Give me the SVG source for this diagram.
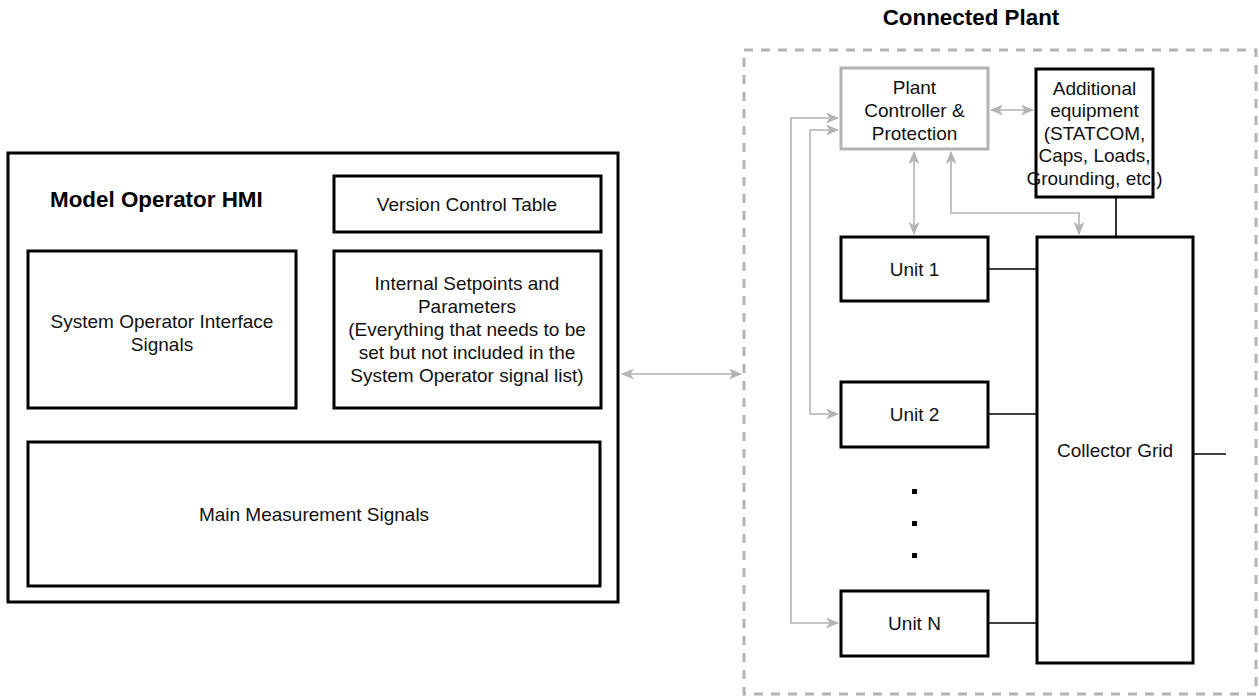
<svg xmlns="http://www.w3.org/2000/svg" width="1259" height="697" viewBox="0 0 1259 697">
<defs>
<style>
.box{fill:#fff;stroke:#000;stroke-width:3}
.gbox{fill:#fff;stroke:#b3b3b3;stroke-width:3}
.t{font-family:"Liberation Sans",Arial,sans-serif;font-size:19px;fill:#111;text-anchor:middle}
.title{font-family:"Liberation Sans",Arial,sans-serif;font-size:22.4px;font-weight:bold;fill:#000}
.gl{fill:none;stroke:#b3b3b3;stroke-width:1.6}
.bl{fill:none;stroke:#000;stroke-width:1.6}
</style>
<marker id="arr" viewBox="0 0 13 11" refX="12" refY="5.5" markerWidth="13" markerHeight="11" markerUnits="userSpaceOnUse" orient="auto-start-reverse">
<path d="M0,0 L13,5.5 L0,11 L3.5,5.5 z" fill="#b3b3b3"/>
</marker>
</defs>
<rect width="1259" height="697" fill="#fff"/>

<g id="hmi">
<rect class="box" x="8" y="153" width="610" height="449"/>
<text class="title" x="50" y="207">Model Operator HMI</text>
</g>
<g id="version-control">
<rect class="box" x="334" y="176" width="267" height="56"/>
<text class="t" x="467" y="210.5">Version Control Table</text>
</g>
<g id="system-operator">
<rect class="box" x="28" y="251" width="268" height="157"/>
<text class="t" x="162" y="328">System Operator Interface</text>
<text class="t" x="162" y="351">Signals</text>
</g>
<g id="internal-setpoints">
<rect class="box" x="334" y="251" width="267" height="157"/>
<text class="t" x="467" y="289.5">Internal Setpoints and</text>
<text class="t" x="467" y="312.5">Parameters</text>
<text class="t" x="467" y="336">(Everything that needs to be</text>
<text class="t" x="467" y="359">set but not included in the</text>
<text class="t" x="467" y="382">System Operator signal list)</text>
</g>
<g id="main-measurement">
<rect class="box" x="28" y="442" width="572" height="144"/>
<text class="t" x="314" y="520.5">Main Measurement Signals</text>
</g>

<g id="connected-plant">
<rect x="744" y="50" width="512" height="644" fill="none" stroke="#b3b3b3" stroke-width="3" stroke-dasharray="9 8"/>
<text class="title" x="971" y="25" text-anchor="middle">Connected Plant</text>
</g>
<g id="plant-controller">
<rect class="gbox" x="841" y="68" width="147" height="81"/>
<text class="t" x="914.5" y="93.5">Plant</text>
<text class="t" x="914.5" y="116.5">Controller &amp;</text>
<text class="t" x="914.5" y="139.5">Protection</text>
</g>
<g id="additional-equipment">
<rect class="box" x="1036" y="69" width="117" height="128"/>
<text class="t" x="1094.5" y="94.5">Additional</text>
<text class="t" x="1094.5" y="117">equipment</text>
<text class="t" x="1094.5" y="139.5">(STATCOM,</text>
<text class="t" x="1094.5" y="162">Caps, Loads,</text>
<text class="t" x="1094.5" y="184.5">Grounding, etc.)</text>
</g>
<g id="unit-1">
<rect class="box" x="841" y="237" width="147" height="64"/>
<text class="t" x="914.5" y="275.5">Unit 1</text>
</g>
<g id="unit-2">
<rect class="box" x="841" y="382" width="147" height="65"/>
<text class="t" x="914.5" y="420.5">Unit 2</text>
</g>
<g id="ellipsis">
<rect x="912" y="489" width="5" height="5" fill="#000"/>
<rect x="912" y="521" width="5" height="5" fill="#000"/>
<rect x="912" y="553" width="5" height="5" fill="#000"/>
</g>
<g id="unit-n">
<rect class="box" x="841" y="591" width="147" height="65"/>
<text class="t" x="914.5" y="629.5">Unit N</text>
</g>
<g id="collector-grid">
<rect class="box" x="1037" y="237" width="156" height="426"/>
<text class="t" x="1115" y="456.5">Collector Grid</text>
</g>

<g id="connectors">
<line class="gl" x1="622" y1="374" x2="741" y2="374" marker-start="url(#arr)" marker-end="url(#arr)"/>
<line class="gl" x1="991" y1="110" x2="1033" y2="110" marker-start="url(#arr)" marker-end="url(#arr)"/>
<line class="gl" x1="914" y1="152" x2="914" y2="234" marker-start="url(#arr)" marker-end="url(#arr)"/>
<path class="gl" d="M951,152 V213 H1079 V234" marker-start="url(#arr)" marker-end="url(#arr)"/>
<path class="gl" d="M838,118 H791 V623 H838" marker-start="url(#arr)" marker-end="url(#arr)"/>
<path class="gl" d="M838,130 H810 V414 H838" marker-start="url(#arr)" marker-end="url(#arr)"/>
<line class="bl" x1="988" y1="269" x2="1037" y2="269"/>
<line class="bl" x1="988" y1="414" x2="1037" y2="414"/>
<line class="bl" x1="988" y1="623" x2="1037" y2="623"/>
<line class="bl" x1="1116" y1="197" x2="1116" y2="237"/>
<line class="bl" x1="1193" y1="454" x2="1226" y2="454"/>
</g>
</svg>
